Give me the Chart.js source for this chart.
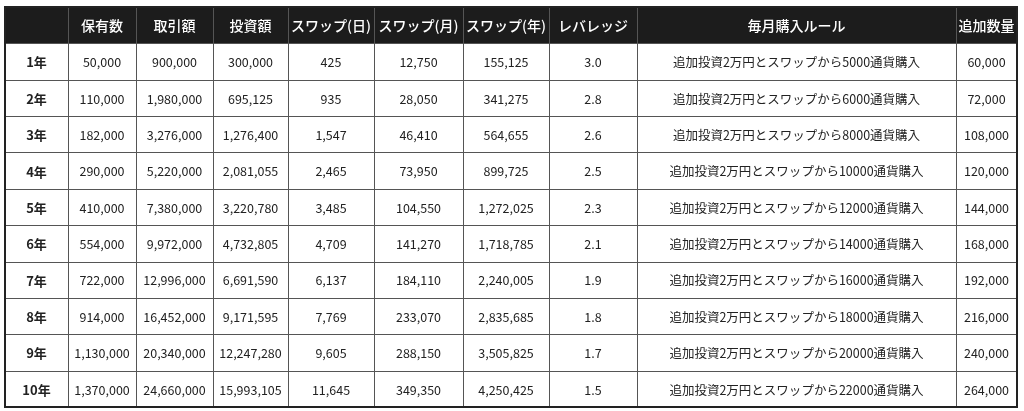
<!DOCTYPE html>
<html><head><meta charset="utf-8">
<script src="https://cdn.jsdelivr.net/npm/chart.js@4/dist/chart.umd.min.js"></script>
<style>html,body{margin:0;background:#fff}#w{width:1024px;height:411px}</style>
</head><body><div id="w"><canvas id="c"></canvas></div>
<script>
const headers = ["", "保有数", "取引額", "投資額", "スワップ(日)", "スワップ(月)", "スワップ(年)", "レバレッジ", "毎月購入ルール", "追加数量"];
const years = ["1年","2年","3年","4年","5年","6年","7年","8年","9年","10年"];
const holdings = [50000,110000,182000,290000,410000,554000,722000,914000,1130000,1370000];
const tradeAmt = [900000,1980000,3276000,5220000,7380000,9972000,12996000,16452000,20340000,24660000];
const investAmt = [300000,695125,1276400,2081055,3220780,4732805,6691590,9171595,12247280,15993105];
const swapDay = [425,935,1547,2465,3485,4709,6137,7769,9605,11645];
const swapMonth = [12750,28050,46410,73950,104550,141270,184110,233070,288150,349350];
const swapYear = [155125,341275,564655,899725,1272025,1718785,2240005,2835685,3505825,4250425];
const leverage = ["3.0","2.8","2.6","2.5","2.3","2.1","1.9","1.8","1.7","1.5"];
const ruleUnits = [5000,6000,8000,10000,12000,14000,16000,18000,20000,22000];
const addQty = [60000,72000,108000,120000,144000,168000,192000,216000,240000,264000];
const colEdges = [0,63,131,208,283,369,458,544,632,951,1012];

const fmt = n => n.toLocaleString('en-US');
const rowLabels = ["header"].concat(years);
const cells = years.map((y,i)=>[y,fmt(holdings[i]),fmt(tradeAmt[i]),fmt(investAmt[i]),fmt(swapDay[i]),fmt(swapMonth[i]),fmt(swapYear[i]),leverage[i],"追加投資2万円とスワップから"+ruleUnits[i]+"通貨購入",fmt(addQty[i])]);

const tablePlugin = {
  id:'table',
  afterDraw(chart){
    const ctx=chart.ctx, xs=chart.scales.x, ys=chart.scales.y;
    const X = v=>xs.getPixelForValue(v);
    const n=rowLabels.length;
    const step=(ys.bottom-ys.top)/n;
    const top=i=>ys.getPixelForValue(i)-step/2;
    ctx.save();
    ctx.fillStyle='#1c1c1c';
    ctx.fillRect(X(0),top(0),X(colEdges[colEdges.length-1])-X(0),step);
    ctx.textAlign='center';ctx.textBaseline='middle';
    ctx.fillStyle='#fff';
    ctx.font='500 14px "Noto Sans CJK JP"';
    headers.forEach((h,c)=>ctx.fillText(h,(X(colEdges[c])+X(colEdges[c+1]))/2,ys.getPixelForValue(0)+1));
    cells.forEach((row,r)=>{
      row.forEach((t,c)=>{
        ctx.fillStyle='#222';
        ctx.font=(c===0?'bold 13px':'12.5px')+' "Noto Sans CJK JP"';
        ctx.fillText(t,(X(colEdges[c])+X(colEdges[c+1]))/2,ys.getPixelForValue(r+1)+1);
      });
    });
    ctx.strokeStyle='#555';ctx.lineWidth=1;
    for(let r=1;r<n;r++){const y=Math.round(top(r))+0.5;ctx.beginPath();ctx.moveTo(X(0),y);ctx.lineTo(X(colEdges[colEdges.length-1]),y);ctx.stroke();}
    colEdges.forEach((e,c)=>{if(c===0||c===colEdges.length-1)return;const x=Math.round(X(e))+0.5;ctx.beginPath();ctx.moveTo(x,top(0));ctx.lineTo(x,top(n-1)+step);ctx.stroke();});
    ctx.strokeStyle='#222';ctx.lineWidth=2;
    ctx.strokeRect(X(0),top(0),X(colEdges[colEdges.length-1])-X(0),step*n);
    ctx.restore();
  }
};

new Chart(document.getElementById('c'),{
  type:'scatter',
  data:{labels:rowLabels,datasets:[{data:[]}]},
  options:{
    responsive:true,maintainAspectRatio:false,animation:false,
    layout:{padding:{left:5,right:7,top:7,bottom:4}},
    plugins:{legend:{display:false},tooltip:{enabled:false}},
    scales:{
      x:{type:'linear',min:0,max:colEdges[colEdges.length-1],display:false},
      y:{type:'category',labels:rowLabels,offset:true,display:false}
    }
  },
  plugins:[tablePlugin]
});
</script></body></html>
